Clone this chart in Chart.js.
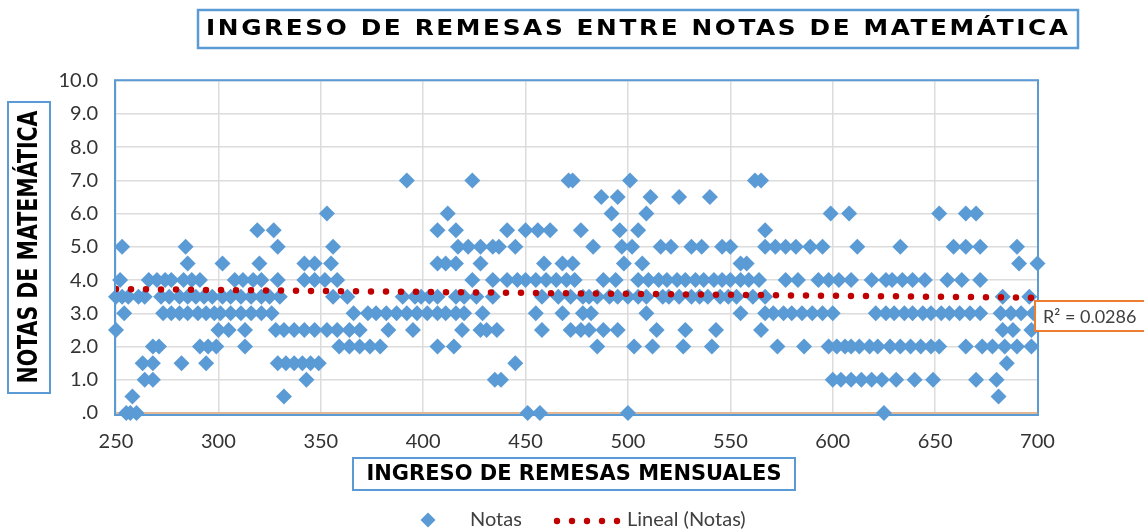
<!DOCTYPE html>
<html lang="es">
<head>
<meta charset="utf-8">
<title>Ingreso de remesas entre notas de matemática</title>
<script src="https://cdn.jsdelivr.net/npm/chart.js@4.4.1/dist/chart.umd.min.js"></script>
<style>
  html, body { margin: 0; padding: 0; background: #fff; }
  #wrap { width: 1144px; height: 531px; }
</style>
</head>
<body>
<div id="wrap"><canvas id="remesas-notas" width="1144" height="531"></canvas></div>
<script>
// remesas mensuales (eje x) agrupadas por la nota de matematica (eje y)
const notas = [0, 0.5, 1, 1.5, 2, 2.5, 3, 3.5, 4, 4.5, 5, 5.5, 6, 6.5, 7];

const remesasNota0 = [255, 257, 260, 451, 457, 500, 625];
const remesasNota05 = [258, 332, 681];
const remesasNota1 = [264, 268, 343, 435, 438, 600, 604, 609, 614, 619, 624, 631, 640, 649, 670, 680];
const remesasNota15 = [263, 268, 282, 294, 329, 333, 337, 341, 345, 349, 445, 685];
const remesasNota2 = [268, 271, 291, 295, 299, 313, 359, 364, 369, 374, 379, 407, 415, 485, 503, 512, 527, 541,
    573, 586, 598, 602, 606, 609, 613, 618, 622, 628, 633, 638, 643, 648, 652, 665, 673, 678, 684, 690, 697];
const remesasNota25 = [250, 300, 305, 313, 328, 332, 337, 342, 347, 353, 358, 364, 369, 383, 395, 419, 428, 431,
    436, 458, 472, 477, 481, 488, 495, 514, 528, 543, 565, 683, 688, 697];
const remesasNota3 = [254, 273, 277, 281, 285, 290, 294, 298, 301, 306, 311, 316, 321, 326, 366, 373, 377, 382,
    387, 392, 397, 402, 407, 411, 416, 420, 429, 455, 468, 478, 482, 509, 555, 567, 571, 576, 580, 585, 590, 595,
    600, 621, 626, 630, 635, 639, 644, 648, 653, 657, 662, 667, 672, 682, 687, 692, 698];
const remesasNota35 = [250, 253, 256, 261, 264, 272, 276, 281, 285, 289, 293, 297, 302, 306, 311, 316, 321, 325,
    330, 356, 363, 390, 396, 399, 403, 407, 416, 420, 426, 434, 458, 466, 472, 478, 481, 485, 491, 495, 500, 505,
    509, 517, 520, 525, 531, 535, 539, 545, 549, 553, 561, 567, 683, 696];
const remesasNota4 = [252, 266, 270, 274, 277, 283, 287, 291, 308, 312, 317, 321, 329, 342, 347, 352, 358, 424,
    434, 441, 446, 450, 455, 460, 465, 470, 474, 488, 494, 505, 510, 515, 519, 524, 528, 533, 537, 542, 546, 550,
    555, 559, 564, 577, 583, 593, 598, 603, 609, 619, 626, 629, 634, 639, 645, 656, 663, 672];
const remesasNota45 = [285, 302, 320, 342, 347, 355, 407, 411, 416, 428, 459, 468, 473, 498, 507, 555, 558, 691, 700];
const remesasNota5 = [253, 284, 329, 356, 417, 422, 428, 434, 437, 445, 483, 497, 502, 516, 521, 531, 536, 546,
    550, 567, 572, 577, 582, 589, 595, 612, 633, 659, 665, 672, 690];
const remesasNota55 = [319, 327, 407, 416, 441, 450, 456, 462, 477, 496, 505, 567];
const remesasNota6 = [353, 412, 492, 509, 599, 608, 652, 665, 670];
const remesasNota65 = [487, 495, 511, 525, 540];
const remesasNota7 = [392, 424, 471, 473, 501, 562, 565];

const remesasPorNota = [remesasNota0, remesasNota05, remesasNota1, remesasNota15, remesasNota2, remesasNota25,
    remesasNota3, remesasNota35, remesasNota4, remesasNota45, remesasNota5, remesasNota55, remesasNota6,
    remesasNota65, remesasNota7];

// linea de tendencia lineal (extremos)
const tendenciaX = [250, 700];
const tendenciaY = [3.73, 3.47];
const textoR2 = 'R² = 0.0286';

const titulo = 'INGRESO DE REMESAS ENTRE NOTAS DE MATEMÁTICA';
const tituloX = 'INGRESO DE REMESAS MENSUALES';
const tituloY = 'NOTAS DE MATEMÁTICA';

const AZUL = '#5B9BD5';
const ROJO = '#C00000';

const puntos = [];
notas.forEach((nota, i) => {
    remesasPorNota[i].forEach(x => puntos.push({ x: x, y: nota }));
});
const tendencia = tendenciaX.map((x, i) => ({ x: x, y: tendenciaY[i] }));

// texto ajustado a un ancho fijo (espaciado o escala horizontal)
function textoAjustado(ctx, texto, cx, cy, ancho, fuente, rot, estirar) {
    const sx = estirar || 1;
    ctx.save();
    ctx.translate(cx, cy);
    if (rot) ctx.rotate(rot);
    ctx.scale(sx, 1);
    ancho = ancho / sx;
    ctx.font = fuente;
    ctx.letterSpacing = '0px';
    ctx.textAlign = 'left';
    ctx.textBaseline = 'middle';
    ctx.fillStyle = '#000';
    const w0 = ctx.measureText(texto).width;
    let esp = (ancho - w0) / (texto.length - 1);
    if (esp < 0) {
        ctx.scale(ancho / w0, 1);
        ctx.fillText(texto, -w0 / 2, 0);
    } else {
        ctx.letterSpacing = esp + 'px';
        ctx.fillText(texto, -ancho / 2, 0);
    }
    ctx.restore();
}

function diamante(ctx, x, y, r) {
    ctx.beginPath();
    ctx.moveTo(x - r, y);
    ctx.lineTo(x, y - r);
    ctx.lineTo(x + r, y);
    ctx.lineTo(x, y + r);
    ctx.closePath();
    ctx.fill();
}

const marcoYTextos = {
    id: 'marcoYTextos',
    beforeDatasetsDraw(chart) {
        const { ctx, chartArea: a } = chart;
        ctx.save();
        ctx.strokeStyle = AZUL;
        ctx.lineWidth = 2;
        ctx.strokeRect(a.left - 1, a.top - 0.5, a.right - a.left + 1.5, a.bottom - a.top + 2.5);
        ctx.strokeStyle = '#E3A77A';
        ctx.lineWidth = 1.5;
        ctx.beginPath();
        ctx.moveTo(a.left, a.bottom);
        ctx.lineTo(a.right, a.bottom);
        ctx.stroke();
        ctx.restore();
    },
    afterDraw(chart) {
        const ctx = chart.ctx;
        ctx.save();

        // titulo
        ctx.strokeStyle = AZUL;
        ctx.lineWidth = 2.5;
        ctx.strokeRect(198, 10, 880, 38);
        textoAjustado(ctx, titulo, 637, 29.5, 862, 'bold 21px "DejaVu Sans"', 0, 1.18);

        // titulo eje y
        ctx.lineWidth = 2;
        ctx.strokeRect(8, 102, 42, 291);
        textoAjustado(ctx, tituloY, 30, 247, 273, 'bold 26px "DejaVu Sans"', -Math.PI / 2);

        // titulo eje x
        ctx.strokeRect(353, 458, 442, 32);
        textoAjustado(ctx, tituloX, 574, 475, 415, 'bold 21px "DejaVu Sans"');

        // leyenda
        ctx.fillStyle = AZUL;
        diamante(ctx, 428, 520, 7.5);
        ctx.fillStyle = ROJO;
        for (let i = 0; i < 5; i++) {
            ctx.beginPath();
            ctx.arc(557 + i * 15, 521, 3.2, 0, Math.PI * 2);
            ctx.fill();
        }
        ctx.fillStyle = '#404040';
        ctx.font = '20px Lato';
        ctx.textAlign = 'left';
        ctx.textBaseline = 'middle';
        ctx.fillText('Notas', 470, 520);
        ctx.fillText('Lineal (Notas)', 627, 520);

        // etiqueta R2
        ctx.fillStyle = '#fff';
        ctx.fillRect(1035, 301, 112, 30);
        ctx.strokeStyle = '#ED7D31';
        ctx.lineWidth = 2;
        ctx.strokeRect(1035, 301, 112, 30);
        ctx.fillStyle = '#404040';
        ctx.font = '18px Lato';
        ctx.fillText(textoR2, 1043, 317);

        ctx.restore();
    }
};

const ejeFuente = { family: 'Lato', size: 20 };

new Chart(document.getElementById('remesas-notas'), {
    type: 'scatter',
    data: {
        datasets: [
            {
                label: 'Lineal (Notas)',
                type: 'line',
                data: tendencia,
                order: 0,
                borderColor: ROJO,
                borderWidth: 6.5,
                borderDash: [0, 15],
                borderCapStyle: 'round',
                pointRadius: 0,
                fill: false
            },
            {
                label: 'Notas',
                data: puntos,
                order: 1,
                pointStyle: 'rectRot',
                pointRadius: 8,
                pointHoverRadius: 8,
                backgroundColor: AZUL,
                borderColor: AZUL,
                borderWidth: 0,
                clip: false
            }
        ]
    },
    options: {
        responsive: false,
        animation: false,
        devicePixelRatio: 1,
        layout: {
            padding: { left: 0, right: 106.5, top: 80.7, bottom: 78 }
        },
        scales: {
            x: {
                type: 'linear',
                min: 250,
                max: 700,
                ticks: { stepSize: 50, padding: 17, color: '#333', font: ejeFuente },
                grid: { color: '#DCDCDC', lineWidth: 1.5, drawTicks: false },
                border: { display: false },
                afterFit: s => { s.height = 40; }
            },
            y: {
                min: 0,
                max: 10,
                ticks: {
                    stepSize: 1,
                    padding: 18,
                    color: '#333',
                    font: ejeFuente,
                    callback: v => v === 0 ? '.0' : v.toFixed(1)
                },
                grid: { color: '#DCDCDC', lineWidth: 1.5, drawTicks: false },
                border: { display: false },
                afterFit: s => { s.width = 116; }
            }
        },
        plugins: {
            legend: { display: false },
            title: { display: false },
            tooltip: { enabled: false }
        }
    },
    plugins: [marcoYTextos]
});
</script>
</body>
</html>
